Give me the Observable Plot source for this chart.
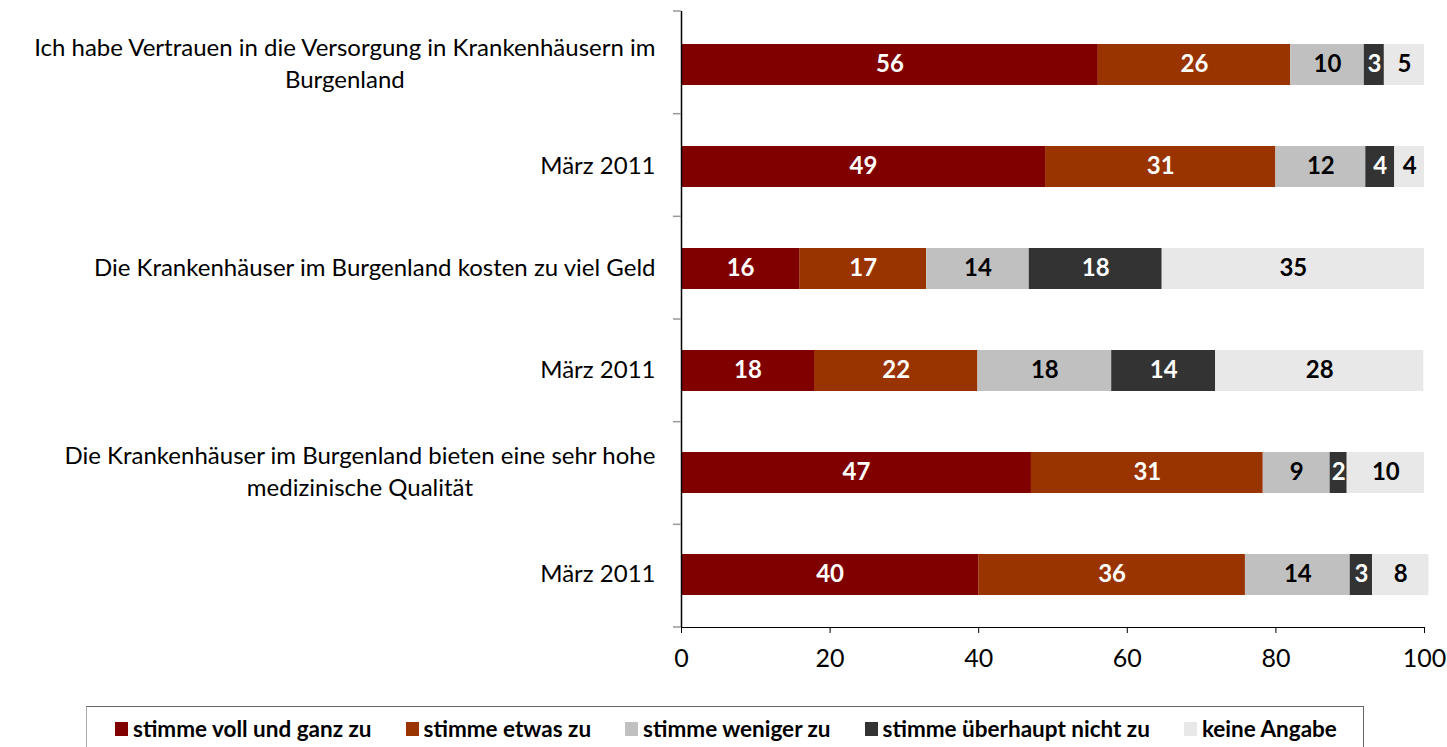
<!DOCTYPE html>
<html>
<head>
<meta charset="utf-8">
<script src="https://cdn.jsdelivr.net/npm/d3@7"></script>
<script src="https://cdn.jsdelivr.net/npm/@observablehq/plot@0.6"></script>
<style>
  body { margin: 0; background: #fff; font-family: Lato, "Open Sans", sans-serif; }
  #legend {
    margin-left: 86px; margin-top: 6px; width: 1278px; height: 60px;
    border-top: 1.5px solid #666; border-left: 1.5px solid #aaa; border-right: 1.5px solid #666;
    box-sizing: border-box; display: flex; align-items: flex-start; padding-left: 28px; padding-top: 8px;
    font-weight: bold; font-size: 22.5px; color: #000; white-space: nowrap; overflow: hidden;
  }
  .item { display: flex; align-items: center; margin-right: 34px; flex-shrink: 0; }
  .sw { width: 13px; height: 14px; margin-right: 5px; flex-shrink: 0; }
</style>
</head>
<body>
<div id="chart"></div>
<div id="legend"></div>
<script>
// ---- data ----
const rowKeys = ["r1", "r2", "r3", "r4", "r5", "r6"];
const rowLabels = [
  "Ich habe Vertrauen in die Versorgung in Krankenhäusern im\nBurgenland",
  "März 2011",
  "Die Krankenhäuser im Burgenland kosten zu viel Geld",
  "März 2011",
  "Die Krankenhäuser im Burgenland bieten eine sehr hohe\nmedizinische Qualität",
  "März 2011"
];
const seriesNames = ["stimme voll und ganz zu", "stimme etwas zu", "stimme weniger zu", "stimme überhaupt nicht zu", "keine Angabe"];
const seriesColors = ["#800000", "#993300", "#c0c0c0", "#333333", "#e8e8e8"];
const whiteLabelSeries = ["stimme voll und ganz zu", "stimme etwas zu", "stimme überhaupt nicht zu"];
const vollUndGanz = [56.1, 49.0, 15.9, 17.9, 47.1, 40.0];
const etwas       = [25.9, 31.0, 17.1, 22.0, 31.2, 35.9];
const weniger     = [9.9, 12.1, 13.8, 18.0, 9.0, 14.1];
const garNicht    = [2.7, 3.9, 17.9, 14.0, 2.3, 3.0];
const keineAngabe = [5.4, 4.0, 35.3, 28.0, 10.4, 7.6];
const xTicks = [0, 20, 40, 60, 80, 100];

// ---- tidy table ----
const seriesValues = [vollUndGanz, etwas, weniger, garNicht, keineAngabe];
const data = [];
rowKeys.forEach((k, i) => {
  seriesNames.forEach((s, j) => data.push({key: k, series: s, value: seriesValues[j][i]}));
});
const rows = rowKeys.map((k, i) => ({key: k, label: rowLabels[i]}));

// band boundary ticks on the y axis
const bandTicks = (index, scales, values, dims) => {
  const n = rowKeys.length;
  const top = dims.marginTop, bottom = dims.height - dims.marginBottom;
  const step = (bottom - top) / n;
  const x0 = scales.x(0);
  const g = d3.create("svg:g");
  for (let i = 0; i <= n; i++) {
    g.append("line").attr("x1", x0 - 8).attr("x2", x0)
      .attr("y1", top + i * step).attr("y2", top + i * step)
      .attr("stroke", "#999").attr("stroke-width", 1.5);
  }
  return g.node();
};

const lab = d => String(Math.round(d.value));

const chart = Plot.plot({
  width: 1447,
  height: 700,
  marginLeft: 681,
  marginRight: 23,
  marginTop: 11,
  marginBottom: 73,
  style: {fontFamily: "Lato, 'Open Sans', sans-serif", fontSize: "25px", color: "#000", background: "#fff"},
  x: {domain: [0, 100], ticks: xTicks, tickSize: 6, tickPadding: 16, label: null, line: true, tickFormat: d => d},
  y: {domain: rowKeys, paddingInner: 0.6, paddingOuter: 0.3, axis: null},
  color: {domain: seriesNames, range: seriesColors},
  marks: [
    Plot.barX(data, Plot.stackX({x: "value", y: "key", fill: "series"})),
    Plot.text(data, Plot.stackX({x: "value", y: "key", z: "series",
      text: d => whiteLabelSeries.includes(d.series) ? lab(d) : "",
      fill: "white", fontWeight: "bold", fontSize: 24, dy: -1})),
    Plot.text(data, Plot.stackX({x: "value", y: "key", z: "series",
      text: d => whiteLabelSeries.includes(d.series) ? "" : lab(d),
      fill: "black", fontWeight: "bold", fontSize: 24, dy: -1})),
    Plot.ruleX([0], {stroke: "black", strokeWidth: 1.5}),
    bandTicks,
    Plot.text(rows, {y: "key", text: "label", frameAnchor: "left", textAnchor: "end", dx: -26, dy: -3,
      lineHeight: 1.3, fontSize: 24, fill: "black", className: "ylab"})
  ]
});
document.getElementById("chart").appendChild(chart);

// center multi-line labels within their block (right-aligned block)
d3.select(chart).selectAll("g.ylab text").each(function() {
  const tspans = this.querySelectorAll("tspan");
  if (tspans.length > 1) {
    const w = this.getBBox().width;
    this.setAttribute("text-anchor", "middle");
    tspans.forEach(t => t.setAttribute("x", -w / 2));
  }
});

// legend
const legend = d3.select("#legend");
seriesNames.forEach((s, i) => {
  const it = legend.append("div").attr("class", "item");
  it.append("div").attr("class", "sw").style("background", seriesColors[i]);
  it.append("span").text(s);
});
</script>
</body>
</html>
